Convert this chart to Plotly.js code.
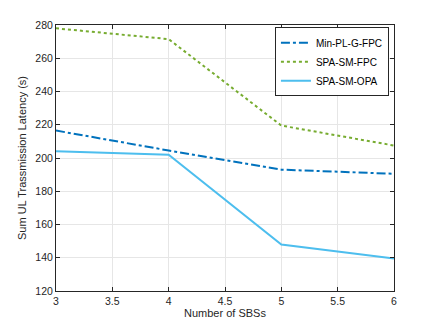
<!DOCTYPE html>
<html>
<head>
<meta charset="utf-8">
<script src="https://cdn.plot.ly/plotly-3.0.1.min.js"></script>
<style>
  body { margin: 0; background: #fff; }
  #chart { width: 436px; height: 327px; }
</style>
</head>
<body>
<div id="chart"></div>
<script>
const sbs_counts = [3, 4, 5, 6];
const min_pl_g_fpc = [216.5, 204.5, 193, 190.5];
const spa_sm_fpc = [278, 271.5, 219.5, 207.5];
const spa_sm_opa = [204, 202, 148, 139.5];

const x_ticks = [3, 3.5, 4, 4.5, 5, 5.5, 6];
const y_ticks = [120, 140, 160, 180, 200, 220, 240, 260, 280];

const axis_color = "#262626";

let data = [
  {
    name: "Min-PL-G-FPC",
    x: sbs_counts,
    y: min_pl_g_fpc,
    type: "scatter",
    mode: "lines",
    line: { color: "#0072BD", width: 2, dash: "dashdot" }
  },
  {
    name: "SPA-SM-FPC",
    x: sbs_counts,
    y: spa_sm_fpc,
    type: "scatter",
    mode: "lines",
    line: { color: "#77AC30", width: 2, dash: "dot" }
  },
  {
    name: "SPA-SM-OPA",
    x: sbs_counts,
    y: spa_sm_opa,
    type: "scatter",
    mode: "lines",
    line: { color: "#4DBEEE", width: 2 }
  }
];

let axis_common = {
  showline: true,
  mirror: "ticks",
  linecolor: axis_color,
  linewidth: 1,
  ticks: "inside",
  ticklen: 4,
  tickcolor: axis_color,
  showgrid: true,
  gridcolor: "#e6e6e6",
  zeroline: false,
  tickfont: { family: "Liberation Sans, Arial, sans-serif", size: 10.5, color: axis_color }
};

let layout = {
  width: 436,
  height: 327,
  margin: { l: 56, r: 42, t: 25, b: 36 },
  paper_bgcolor: "#ffffff",
  plot_bgcolor: "#ffffff",
  showlegend: true,
  legend: {
    x: 0.985,
    y: 0.992,
    xanchor: "right",
    yanchor: "top",
    bgcolor: "#ffffff",
    bordercolor: axis_color,
    borderwidth: 1,
    itemwidth: 30,
    tracegroupgap: 0,
    font: { family: "Liberation Sans, Arial, sans-serif", size: 10, color: "#000" }
  },
  xaxis: Object.assign({}, axis_common, {
    range: [3, 6],
    tickvals: x_ticks,
    ticktext: x_ticks.map(String),
    title: {
      text: "Number of SBSs",
      standoff: 2,
      font: { family: "Liberation Sans, Arial, sans-serif", size: 11, color: axis_color }
    }
  }),
  yaxis: Object.assign({}, axis_common, {
    range: [120, 280],
    tickvals: y_ticks,
    ticktext: y_ticks.map(String),
    title: {
      text: "Sum UL Trassmission Latency (s)",
      standoff: 6,
      font: { family: "Liberation Sans, Arial, sans-serif", size: 11, color: axis_color }
    }
  })
};

Plotly.newPlot("chart", data, layout, { displayModeBar: false, staticPlot: true });
</script>
</body>
</html>
